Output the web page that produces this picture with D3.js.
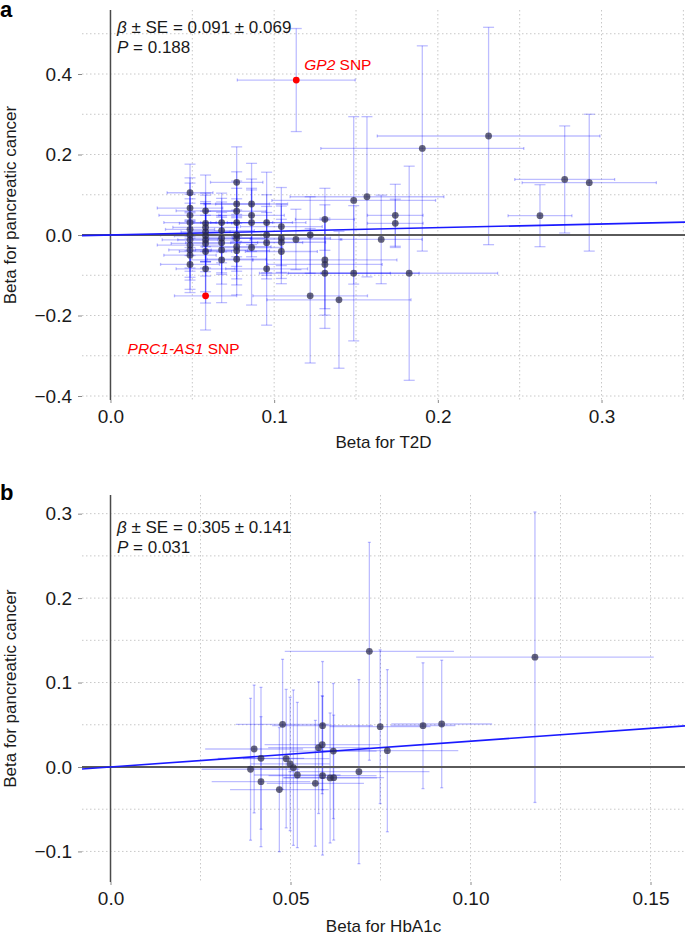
<!DOCTYPE html>
<html><head><meta charset="utf-8">
<script src="https://cdn.jsdelivr.net/npm/d3@7"></script>
<style>
body{margin:0;background:#fff}
svg{display:block}
text{font-family:"Liberation Sans",Arial,Helvetica,sans-serif}
</style>
</head><body>
<svg id="chart" width="685" height="935"></svg>
<script>
// ---------------- DATA: panel a (T2D) ----------------
const t2dBeta = [
  0.0486,0.0486,0.0486,0.0486,0.0486,0.0486,0.0486,0.0486,0.0486,0.0486,0.0486,
  0.0581,0.0581,0.0581,0.0581,0.0581,0.0581,0.0581,0.0581,0.0581,
  0.0679,0.0679,0.0679,0.0679,0.0679,0.0679,
  0.0771,0.0771,0.0771,0.0771,0.0771,0.0771,0.0771,0.0771,0.0771,
  0.0862,0.0862,0.0862,0.0862,
  0.0954,0.0954,0.0954,0.0954,
  0.1044,0.1044,0.1044,0.1044,
  0.1133,
  0.1220,0.1220,
  0.1310,0.1310,0.1310,0.1310,
  0.1396,
  0.1486,0.1486,
  0.1567,
  0.1654,
  0.1740,0.1740,
  0.1825,
  0.1905,
  0.2310,
  0.2624,
  0.2775,
  0.2925
];
const t2dHalfCI = [
  0.014,0.020,0.019,0.016,0.015,0.018,0.017,0.020,0.013,0.016,0.018,
  0.018,0.016,0.020,0.015,0.019,0.017,0.021,0.016,0.018,
  0.017,0.020,0.018,0.022,0.016,0.019,
  0.016,0.020,0.018,0.022,0.019,0.017,0.021,0.020,0.018,
  0.022,0.020,0.025,0.019,
  0.024,0.028,0.022,0.025,
  0.025,0.030,0.027,0.022,
  0.028,
  0.030,0.035,
  0.018,0.044,0.035,0.040,
  0.044,
  0.050,0.040,
  0.047,
  0.025,
  0.017,0.017,
  0.054,
  0.062,
  0.068,
  0.0195,
  0.0305,
  0.041
];
const pancBetaA = [
  0.105,0.067,0.049,0.031,0.014,0.000,-0.012,-0.025,-0.037,-0.050,-0.073,
  0.060,0.029,0.019,0.008,-0.002,-0.012,-0.021,-0.041,-0.084,
  0.031,0.011,-0.008,-0.019,-0.037,-0.062,
  0.131,0.077,0.059,0.031,0.000,-0.008,-0.029,-0.039,-0.060,
  0.077,0.049,0.031,-0.031,
  0.031,0.000,-0.019,-0.084,
  0.021,-0.008,-0.018,-0.041,
  -0.011,
  0.000,-0.151,
  0.039,-0.062,-0.073,-0.095,
  -0.161,
  0.086,-0.095,
  0.095,
  -0.011,
  0.049,0.029,
  -0.095,
  0.215,
  0.246,
  0.048,
  0.138,
  0.130
];
const pancHalfCIA = [
  0.071,0.075,0.080,0.070,0.065,0.090,0.070,0.080,0.075,0.085,0.070,
  0.089,0.070,0.085,0.075,0.080,0.090,0.070,0.100,0.085,
  0.073,0.080,0.090,0.075,0.085,0.106,
  0.088,0.080,0.075,0.085,0.090,0.070,0.080,0.085,0.089,
  0.101,0.090,0.085,0.143,
  0.125,0.100,0.090,0.140,
  0.097,0.085,0.090,0.080,
  0.075,
  0.095,0.167,
  0.077,0.137,0.110,0.137,
  0.170,
  0.208,0.168,
  0.199,
  0.110,
  0.077,0.060,
  0.266,
  0.255,
  0.270,
  0.077,
  0.133,
  0.170
];
// highlighted SNPs (red)
const redSnpNames = ["GP2", "PRC1-AS1"];
const redT2dBeta = [0.1135, 0.0581];
const redT2dHalfCI = [0.036, 0.019];
const redPancBeta = [0.385, -0.151];
const redPancHalfCI = [0.128, 0.085];
const statsA = ["0.091", "0.069", "0.188"];   // beta, SE, P

// ---------------- DATA: panel b (HbA1c) ----------------
const hba1cBeta = [0.0719,0.0749,0.0769,0.0589,0.0478,0.0399,0.0418,0.0389,0.0418,0.0469,0.0488,0.0499,0.0508,0.0519,0.0578,0.0588,0.0619,0.0569,0.0589,0.0610,0.0620,0.0690,0.0868,0.0920,0.1179];
const hba1cHalfCI = [0.0235,0.014,0.0197,0.014,0.013,0.0136,0.012,0.0136,0.0137,0.0137,0.012,0.011,0.013,0.012,0.014,0.016,0.012,0.0135,0.015,0.013,0.014,0.0196,0.009,0.014,0.033];
const pancBetaB = [0.137,0.0477,0.0193,0.0489,0.0505,0.0213,0.0103,-0.0027,-0.0174,-0.0268,0.0099,0.0036,-0.0008,-0.0095,0.0229,0.0264,0.0189,-0.0193,-0.0103,-0.013,-0.0126,-0.0055,0.0489,0.0509,0.130];
const pancHalfCIB = [0.129,0.091,0.096,0.076,0.077,0.0757,0.084,0.084,0.077,0.0735,0.082,0.079,0.092,0.086,0.078,0.058,0.080,0.0745,0.094,0.077,0.074,0.109,0.0745,0.0755,0.172];
const statsB = ["0.305", "0.141", "0.031"];

// ---------------- Ticks / labels ----------------
const xTicksA = [0, 0.1, 0.2, 0.3];
const xTickLabelsA = ["0.0", "0.1", "0.2", "0.3"];
const yTicksA = [-0.4, -0.2, 0, 0.2, 0.4];
const yTickLabelsA = ["\u22120.4", "\u22120.2", "0.0", "0.2", "0.4"];
const xGridA = [0, 0.05, 0.1, 0.15, 0.2, 0.25, 0.3, 0.35];
const yGridA = [-0.4, -0.3, -0.2, -0.1, 0, 0.1, 0.2, 0.3, 0.4, 0.5];

const xTicksB = [0, 0.05, 0.10, 0.15];
const xTickLabelsB = ["0.0", "0.05", "0.10", "0.15"];
const yTicksB = [-0.1, 0, 0.1, 0.2, 0.3];
const yTickLabelsB = ["\u22120.1", "0.0", "0.1", "0.2", "0.3"];
const xGridB = [0, 0.025, 0.05, 0.075, 0.1, 0.125, 0.15];
const yGridB = [-0.1, -0.05, 0, 0.05, 0.1, 0.15, 0.2, 0.25, 0.3];

const svg = d3.select("#chart");

function drawPanel(cfg) {
  const g = svg.append("g");
  const x = d3.scaleLinear().domain(cfg.xDomain).range([cfg.left, cfg.right]);
  const y = d3.scaleLinear().domain(cfg.yDomain).range([cfg.bottom, cfg.top]);

  // grid
  g.append("g").selectAll("line").data(cfg.xGrid).join("line")
    .attr("x1", d => x(d)).attr("x2", d => x(d))
    .attr("y1", cfg.top).attr("y2", cfg.bottom)
    .attr("stroke", "#c8c8c8").attr("stroke-width", 1).attr("stroke-dasharray", "1.5,2.5");
  g.append("g").selectAll("line").data(cfg.yGrid).join("line")
    .attr("x1", cfg.left).attr("x2", cfg.right)
    .attr("y1", d => y(d)).attr("y2", d => y(d))
    .attr("stroke", "#c8c8c8").attr("stroke-width", 1).attr("stroke-dasharray", "1.5,2.5");

  // axes
  const ya = d3.axisLeft(y).tickValues(cfg.yTicks)
    .tickFormat((d, i) => cfg.yTickLabels[i]).tickSize(4).tickPadding(6);
  const yg = g.append("g").attr("transform", `translate(${cfg.left},0)`).call(ya);
  const xa = d3.axisBottom(x).tickValues(cfg.xTicks)
    .tickFormat((d, i) => cfg.xTickLabels[i]).tickSize(3).tickPadding(7);
  const xg = g.append("g").attr("transform", `translate(0,${cfg.bottom})`).call(xa);
  [yg, xg].forEach(a => {
    a.select(".domain").remove();
    a.selectAll(".tick line").attr("stroke", "#8a8a8a");
    a.selectAll(".tick text").attr("fill", "#1a1a1a")
      .style("font-size", "19px").style("font-family", '"Liberation Sans",Arial,sans-serif');
  });

  // error bars
  const n = cfg.xs.length;
  const idx = d3.range(n);
  const eb = g.append("g").attr("stroke", "#0000ff").attr("stroke-opacity", 0.26).attr("stroke-width", 1.3);
  function bars(xs, xh, ys, yh, ids) {
    ids.forEach(i => {
      const cx = x(xs[i]), cy = y(ys[i]);
      const yt = y(ys[i] + yh[i]), yb = y(ys[i] - yh[i]);
      const xl = x(xs[i] - xh[i]), xr = x(xs[i] + xh[i]);
      eb.append("line").attr("x1", cx).attr("x2", cx).attr("y1", yt).attr("y2", yb);
      eb.append("line").attr("x1", cx - cfg.capV).attr("x2", cx + cfg.capV).attr("y1", yt).attr("y2", yt);
      eb.append("line").attr("x1", cx - cfg.capV).attr("x2", cx + cfg.capV).attr("y1", yb).attr("y2", yb);
      eb.append("line").attr("x1", xl).attr("x2", xr).attr("y1", cy).attr("y2", cy);
      if (cfg.capH > 0) {
        eb.append("line").attr("x1", xl).attr("x2", xl).attr("y1", cy - cfg.capH).attr("y2", cy + cfg.capH);
        eb.append("line").attr("x1", xr).attr("x2", xr).attr("y1", cy - cfg.capH).attr("y2", cy + cfg.capH);
      }
    });
  }
  bars(cfg.xs, cfg.xh, cfg.ys, cfg.yh, idx);
  if (cfg.red) bars(cfg.red.xs, cfg.red.xh, cfg.red.ys, cfg.red.yh, d3.range(cfg.red.xs.length));

  // zero lines
  g.append("line").attr("x1", cfg.left).attr("x2", cfg.right).attr("y1", y(0)).attr("y2", y(0))
    .attr("stroke", "#5a5a5a").attr("stroke-width", 2);
  g.append("line").attr("x1", x(0)).attr("x2", x(0)).attr("y1", cfg.top).attr("y2", cfg.bottom)
    .attr("stroke", "#4a4a4a").attr("stroke-width", 1.5);

  // regression line through origin
  g.append("line")
    .attr("x1", x(cfg.xDomain[0])).attr("y1", y(cfg.slope * cfg.xDomain[0]))
    .attr("x2", x(cfg.xDomain[1])).attr("y2", y(cfg.slope * cfg.xDomain[1]))
    .attr("stroke", "#1a1aff").attr("stroke-width", 1.6);

  // points
  g.append("g").selectAll("circle").data(idx).join("circle")
    .attr("cx", i => x(cfg.xs[i])).attr("cy", i => y(cfg.ys[i])).attr("r", 3.4)
    .attr("fill", "#2a2a48").attr("fill-opacity", 0.72);
  if (cfg.red) {
    g.append("g").selectAll("circle").data(d3.range(cfg.red.xs.length)).join("circle")
      .attr("cx", i => x(cfg.red.xs[i])).attr("cy", i => y(cfg.red.ys[i])).attr("r", 3.4)
      .attr("fill", "#ff0000");
    cfg.red.names.forEach((nm, i) => {
      const off = cfg.red.labelOffsets[i];
      const t = g.append("text")
        .attr("x", x(cfg.red.xs[i]) + off[0]).attr("y", y(cfg.red.ys[i]) + off[1])
        .attr("fill", "#ff0000").style("font-size", "15.5px");
      t.append("tspan").attr("font-style", "italic").text(nm);
      t.append("tspan").text(" SNP");
    });
  }

  // stats annotation
  const t1 = g.append("text").attr("x", cfg.left + 35).attr("y", cfg.statsY[0])
    .attr("fill", "#1a1a1a").style("font-size", "17px");
  t1.append("tspan").attr("font-style", "italic").text("\u03b2");
  t1.append("tspan").text(` \u00b1 SE = ${cfg.stats[0]} \u00b1 ${cfg.stats[1]}`);
  const t2 = g.append("text").attr("x", cfg.left + 35).attr("y", cfg.statsY[1])
    .attr("fill", "#1a1a1a").style("font-size", "17px");
  t2.append("tspan").attr("font-style", "italic").text("P");
  t2.append("tspan").text(` = ${cfg.stats[2]}`);

  // axis titles
  g.append("text").attr("x", (cfg.left + cfg.right) / 2).attr("y", cfg.xTitleY)
    .attr("text-anchor", "middle").attr("fill", "#1a1a1a").style("font-size", "17px").text(cfg.xTitle);
  g.append("text").attr("transform", `translate(15.5,${(cfg.top + cfg.bottom) / 2}) rotate(-90)`)
    .attr("text-anchor", "middle").attr("fill", "#1a1a1a").style("font-size", "17px").text(cfg.yTitle);

  // panel letter
  g.append("text").attr("x", 0).attr("y", cfg.letterY).attr("font-weight", "bold")
    .attr("fill", "#000").style("font-size", "22px").text(cfg.letter);
}

drawPanel({
  left: 82, right: 685, top: 10, bottom: 400,
  xDomain: [-0.0174, 0.3510], yDomain: [-0.4099, 0.5590],
  xs: t2dBeta, xh: t2dHalfCI, ys: pancBetaA, yh: pancHalfCIA,
  red: { names: redSnpNames, xs: redT2dBeta, xh: redT2dHalfCI, ys: redPancBeta, yh: redPancHalfCI,
         labelOffsets: [[8, -10], [-78, 58]] },
  slope: +statsA[0], stats: statsA, statsY: [33, 53],
  capV: 5.5, capH: 1.5,
  xTicks: xTicksA, xTickLabels: xTickLabelsA, yTicks: yTicksA, yTickLabels: yTickLabelsA,
  xGrid: xGridA, yGrid: yGridA,
  xTitle: "Beta for T2D", xTitleY: 448, yTitle: "Beta for pancreatic cancer",
  letter: "a", letterY: 17
});

drawPanel({
  left: 82, right: 685, top: 495, bottom: 882,
  xDomain: [-0.00792, 0.15958], yDomain: [-0.1362, 0.3221],
  xs: hba1cBeta, xh: hba1cHalfCI, ys: pancBetaB, yh: pancHalfCIB,
  red: null,
  slope: +statsB[0], stats: statsB, statsY: [533, 553],
  capV: 1.5, capH: 0,
  xTicks: xTicksB, xTickLabels: xTickLabelsB, yTicks: yTicksB, yTickLabels: yTickLabelsB,
  xGrid: xGridB, yGrid: yGridB,
  xTitle: "Beta for HbA1c", xTitleY: 932, yTitle: "Beta for pancreatic cancer",
  letter: "b", letterY: 500
});
</script>
</body></html>
